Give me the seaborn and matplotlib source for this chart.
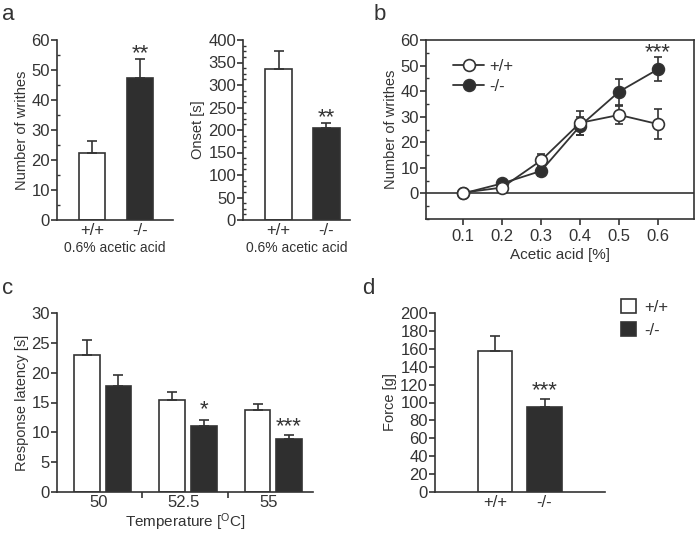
import pandas as pd
import matplotlib
matplotlib.use("Agg")
import matplotlib.pyplot as plt
import seaborn as sns
from matplotlib.patches import Patch
from matplotlib.lines import Line2D
from matplotlib.ticker import MultipleLocator

# ---- data ----
genotypes = ["+/+", "-/-"]

writhes_mean = [22.2, 47.2]
writhes_sem = [4.2, 6.6]

onset_mean = [335, 204]
onset_sem = [40, 11]

conc = [0.1, 0.2, 0.3, 0.4, 0.5, 0.6]
wt_writhes = [0.3, 2.3, 12.9, 27.6, 30.7, 27.1]
wt_sem = [0.5, 0.8, 2.5, 4.7, 3.5, 5.8]
ko_writhes = [0.0, 3.9, 8.8, 26.4, 39.8, 48.6]
ko_sem = [0.5, 1.0, 1.9, 3.6, 5.1, 4.7]

temps = ["50", "52.5", "55"]
wt_latency = [23.0, 15.4, 13.8]
wt_latency_sem = [2.5, 1.3, 1.0]
ko_latency = [17.8, 11.1, 8.8]
ko_latency_sem = [1.8, 1.0, 0.8]

force_mean = [157, 94.5]
force_sem = [17, 9.7]

# ---- style ----
sns.set_style("ticks")
dark = "#2f2f2f"
txt = "#333333"
plt.rcParams["font.family"] = ["Liberation Sans", "DejaVu Sans"]
plt.rcParams["font.size"] = 10.5
plt.rcParams["text.color"] = txt
plt.rcParams["axes.labelcolor"] = txt
plt.rcParams["xtick.color"] = txt
plt.rcParams["ytick.color"] = txt
plt.rcParams["axes.edgecolor"] = txt
plt.rcParams["axes.linewidth"] = 1.2
plt.rcParams["xtick.major.width"] = 1.2
plt.rcParams["ytick.major.width"] = 1.2
plt.rcParams["ytick.minor.width"] = 1.0
plt.rcParams["xtick.labelsize"] = 12
plt.rcParams["ytick.labelsize"] = 12
plt.rcParams["legend.fontsize"] = 12
pal = {"+/+": "white", "-/-": dark}
star_size = 16

W, H = 698, 535
fig = plt.figure(figsize=(W / 100, H / 100), dpi=100)


def box(x0, x1, y0, y1):
    return [x0 / W, 1 - y1 / H, (x1 - x0) / W, (y1 - y0) / H]


def bar_panel(ax, means, sems, width):
    df = pd.DataFrame({"genotype": genotypes, "value": means})
    sns.barplot(data=df, x="genotype", y="value", hue="genotype", palette=pal,
                width=width, edgecolor=txt, linewidth=1.2, legend=False, ax=ax)
    xs = [p.get_x() + p.get_width() / 2 for p in ax.patches]
    ax.errorbar(xs, means, yerr=[[0] * len(sems), sems], fmt="none",
                ecolor=txt, elinewidth=1.2, capsize=3.3, capthick=1.2, zorder=1)
    sns.despine(ax=ax)
    ax.tick_params(axis="x", length=0, pad=2)
    ax.tick_params(axis="y", direction="out", length=4, pad=1)
    ax.tick_params(axis="y", which="minor", direction="in", length=2)
    return xs


# ---- panel a (left) ----
ax1 = fig.add_axes(box(57, 173, 40, 220))
xs = bar_panel(ax1, writhes_mean, writhes_sem, 0.54)
ax1.set_ylim(0, 60)
ax1.set_xlim(-0.73, 1.69)
ax1.yaxis.set_major_locator(MultipleLocator(10))
ax1.yaxis.set_minor_locator(MultipleLocator(5))
ax1.set_ylabel("Number of writhes", labelpad=2)
ax1.set_xlabel("0.6% acetic acid", labelpad=2, fontsize=10)
ax1.text(xs[1], 55.5, "**", ha="center", va="center", fontsize=star_size)

# ---- panel a (right) ----
ax2 = fig.add_axes(box(243, 350, 40, 220))
xs = bar_panel(ax2, onset_mean, onset_sem, 0.56)
ax2.set_ylim(0, 400)
ax2.set_xlim(-0.74, 1.49)
ax2.yaxis.set_major_locator(MultipleLocator(50))
ax2.yaxis.set_minor_locator(MultipleLocator(12.5))
ax2.set_ylabel("Onset [s]", labelpad=2)
ax2.set_xlabel("0.6% acetic acid", labelpad=2, fontsize=10)
ax2.text(xs[1], 227, "**", ha="center", va="center", fontsize=star_size)

# ---- panel b ----
ax3 = fig.add_axes(box(426, 694, 40, 219))
ax3.axhline(0, color=txt, lw=1.2, zorder=0)
ax3.errorbar(conc, ko_writhes, yerr=ko_sem, fmt="none", ecolor=txt,
             elinewidth=1.2, capsize=3, capthick=1.2, zorder=2)
ax3.errorbar(conc, wt_writhes, yerr=wt_sem, fmt="none", ecolor=txt,
             elinewidth=1.2, capsize=3, capthick=1.2, zorder=2)
sns.lineplot(x=conc, y=ko_writhes, color=txt, lw=1.3, marker="o", markersize=8.5,
             markerfacecolor=dark, markeredgecolor=txt, markeredgewidth=1.2,
             ax=ax3, zorder=3)
sns.lineplot(x=conc, y=wt_writhes, color=txt, lw=1.3, marker="o", markersize=8.5,
             markerfacecolor="white", markeredgecolor=txt, markeredgewidth=1.2,
             ax=ax3, zorder=4)
ax3.set_xlim(0.005, 0.692)
ax3.set_ylim(-10, 60)
ax3.set_xticks(conc)
ax3.set_xticklabels([f"{c:.1f}" for c in conc])
ax3.yaxis.set_minor_locator(MultipleLocator(5))
ax3.set_yticks([0, 10, 20, 30, 40, 50, 60])
ax3.tick_params(axis="both", direction="out", length=4, pad=1)
ax3.tick_params(axis="x", pad=3)
ax3.tick_params(axis="y", which="minor", direction="in", length=2)
ax3.set_ylabel("Number of writhes", labelpad=2)
ax3.set_xlabel("Acetic acid [%]", labelpad=3, fontsize=11)
ax3.text(0.6, 55, "***", ha="center", va="center", fontsize=star_size)
handles_b = [
    Line2D([], [], color=txt, lw=1.3, marker="o", markersize=8.5,
           markerfacecolor="white", markeredgecolor=txt, markeredgewidth=1.2),
    Line2D([], [], color=txt, lw=1.3, marker="o", markersize=8.5,
           markerfacecolor=dark, markeredgecolor=txt, markeredgewidth=1.2),
]
ax3.legend(handles_b, genotypes, loc="upper left", bbox_to_anchor=(0.1, 0.895),
           frameon=False, borderpad=0, borderaxespad=0, handlelength=1.9,
           handletextpad=0.3, labelspacing=0.3)

# ---- panel c ----
ax4 = fig.add_axes(box(57, 313, 313, 492))
dfc = pd.DataFrame({
    "temp": temps * 2,
    "genotype": ["+/+"] * 3 + ["-/-"] * 3,
    "latency": wt_latency + ko_latency,
})
sns.barplot(data=dfc, x="temp", y="latency", hue="genotype", palette=pal,
            width=0.74, gap=0.19, edgecolor=txt, linewidth=1.2, legend=False, ax=ax4)
bars = ax4.patches[:6]
xc = [p.get_x() + p.get_width() / 2 for p in bars]
lat_means = wt_latency + ko_latency
lat_sems = wt_latency_sem + ko_latency_sem
ax4.errorbar(xc, lat_means, yerr=[[0] * 6, lat_sems], fmt="none", ecolor=txt,
             elinewidth=1.2, capsize=3.3, capthick=1.2, zorder=1)
ax4.set_ylim(0, 30)
ax4.set_xlim(-0.535, 2.465)
ax4.yaxis.set_major_locator(MultipleLocator(5))
ax4.set_xticks([0.465, 1.465])
ax4.set_xticklabels([])
ax4.set_xticks([-0.05, 0.95, 1.95], minor=True)
ax4.set_xticklabels(temps, minor=True)
ax4.tick_params(axis="x", which="major", direction="out", length=4)
ax4.tick_params(axis="x", which="minor", length=0, pad=2)
ax4.tick_params(axis="y", direction="out", length=4, pad=1)
sns.despine(ax=ax4)
ax4.set_ylabel("Response latency [s]", labelpad=2)
ax4.set_xlabel("Temperature [$\\mathregular{^{O}}$C]", labelpad=1, fontsize=11)
ax4.text(xc[4], 13.8, "*", ha="center", va="center", fontsize=star_size)
ax4.text(xc[5], 10.9, "***", ha="center", va="center", fontsize=star_size)

# ---- panel d ----
ax5 = fig.add_axes(box(435, 605, 313, 492))
xs = bar_panel(ax5, force_mean, force_sem, 0.69)
ax5.set_ylim(0, 200)
ax5.set_xlim(-1.21, 2.22)
ax5.yaxis.set_major_locator(MultipleLocator(20))
ax5.set_ylabel("Force [g]", labelpad=2)
ax5.set_xlabel("")
ax5.text(xs[1], 113, "***", ha="center", va="center", fontsize=star_size)

handles_d = [Patch(facecolor="white", edgecolor=txt, linewidth=1.2),
             Patch(facecolor=dark, edgecolor=txt, linewidth=1.2)]
fig.legend(handles_d, genotypes, loc="upper left",
           bbox_to_anchor=(621 / W, 1 - 299 / H), frameon=False, borderpad=0,
           borderaxespad=0, handlelength=0.9, handleheight=0.9,
           handletextpad=0.5, labelspacing=0.45)

# ---- panel letters ----
for lbl, x, y in [("a", 2, 20), ("b", 374, 20), ("c", 2, 294), ("d", 362, 294)]:
    fig.text(x / W, 1 - y / H, lbl, fontsize=16, ha="left", va="baseline")

fig.savefig("out.png", dpi=100)
